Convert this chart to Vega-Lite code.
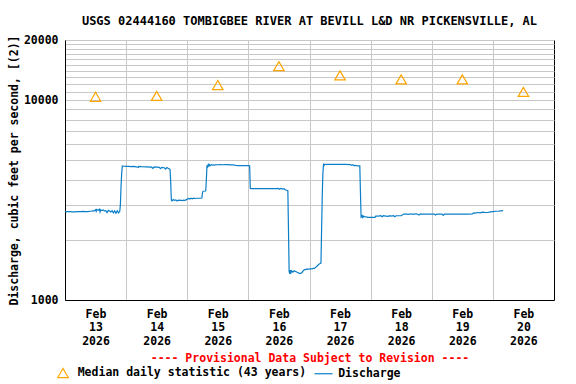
{
  "$schema": "https://vega.github.io/schema/vega-lite/v6.json",
  "width": 489,
  "height": 260,
  "autosize": {"type": "none"},
  "padding": {"left": 65, "top": 40, "right": 22, "bottom": 84},
  "background": "white",
  "title": {
    "text": "USGS 02444160 TOMBIGBEE RIVER AT BEVILL L&D NR PICKENSVILLE, AL",
    "font": "DejaVu Sans Mono", "fontSize": 12, "fontWeight": "bold", "color": "black",
    "anchor": "middle", "baseline": "bottom", "offset": 4, "dy": 10, "frame": "group"
  },
  "config": {
    "view": {"stroke": "black", "strokeWidth": 1},
    "axis": {
      "labelFont": "DejaVu Sans Mono", "labelFontSize": 11.5, "labelFontWeight": "bold", "labelColor": "black",
      "titleFont": "DejaVu Sans Mono", "titleFontSize": 11.5, "titleFontWeight": "bold", "titleColor": "black",
      "domainColor": "black", "domainWidth": 1, "ticks": false,
      "gridColor": "#c8c8c8", "gridWidth": 1, "gridOpacity": 1
    },
    "legend": {
      "labelFont": "DejaVu Sans Mono", "labelFontSize": 11.5, "labelFontWeight": "bold", "labelColor": "black", "labelLimit": 0
    }
  },
  "datasets": {
    "discharge": [
      {"t":"2026-02-13T00:00","q":2780},{"t":"2026-02-13T00:30","q":2760},{"t":"2026-02-13T01:00","q":2770},{"t":"2026-02-13T02:00","q":2770},
      {"t":"2026-02-13T03:00","q":2760},{"t":"2026-02-13T04:00","q":2760},{"t":"2026-02-13T05:00","q":2770},{"t":"2026-02-13T06:00","q":2770},
      {"t":"2026-02-13T07:00","q":2775},{"t":"2026-02-13T08:00","q":2770},{"t":"2026-02-13T09:00","q":2770},{"t":"2026-02-13T10:00","q":2780},
      {"t":"2026-02-13T11:00","q":2790},{"t":"2026-02-13T11:30","q":2790},{"t":"2026-02-13T12:00","q":2830},{"t":"2026-02-13T12:15","q":2780},
      {"t":"2026-02-13T12:30","q":2840},{"t":"2026-02-13T13:00","q":2810},{"t":"2026-02-13T13:30","q":2850},{"t":"2026-02-13T13:45","q":2760},
      {"t":"2026-02-13T14:00","q":2830},{"t":"2026-02-13T14:30","q":2800},{"t":"2026-02-13T15:00","q":2820},{"t":"2026-02-13T15:30","q":2790},
      {"t":"2026-02-13T16:00","q":2800},{"t":"2026-02-13T16:30","q":2740},{"t":"2026-02-13T17:00","q":2810},{"t":"2026-02-13T17:30","q":2790},
      {"t":"2026-02-13T18:00","q":2760},{"t":"2026-02-13T18:30","q":2800},{"t":"2026-02-13T19:00","q":2730},{"t":"2026-02-13T19:30","q":2790},
      {"t":"2026-02-13T20:00","q":2720},{"t":"2026-02-13T20:30","q":2800},{"t":"2026-02-13T21:00","q":2730},{"t":"2026-02-13T21:30","q":2780},
      {"t":"2026-02-13T21:45","q":3000},{"t":"2026-02-13T22:00","q":3700},{"t":"2026-02-13T22:15","q":4300},{"t":"2026-02-13T22:30","q":4680},
      {"t":"2026-02-13T23:00","q":4670},{"t":"2026-02-14T00:00","q":4660},{"t":"2026-02-14T01:00","q":4660},{"t":"2026-02-14T02:00","q":4650},
      {"t":"2026-02-14T03:00","q":4660},{"t":"2026-02-14T04:00","q":4640},{"t":"2026-02-14T04:45","q":4600},{"t":"2026-02-14T05:00","q":4660},
      {"t":"2026-02-14T06:00","q":4650},{"t":"2026-02-14T08:00","q":4640},{"t":"2026-02-14T10:00","q":4620},{"t":"2026-02-14T10:30","q":4560},
      {"t":"2026-02-14T11:00","q":4630},{"t":"2026-02-14T12:00","q":4620},{"t":"2026-02-14T13:00","q":4610},{"t":"2026-02-14T13:30","q":4540},
      {"t":"2026-02-14T14:00","q":4610},{"t":"2026-02-14T15:00","q":4590},{"t":"2026-02-14T15:30","q":4520},{"t":"2026-02-14T16:00","q":4600},
      {"t":"2026-02-14T16:30","q":4560},{"t":"2026-02-14T17:00","q":4530},{"t":"2026-02-14T17:15","q":4500},{"t":"2026-02-14T17:30","q":3900},
      {"t":"2026-02-14T17:45","q":3170},{"t":"2026-02-14T18:00","q":3130},{"t":"2026-02-14T18:30","q":3180},{"t":"2026-02-14T19:00","q":3150},
      {"t":"2026-02-14T19:30","q":3170},{"t":"2026-02-14T20:00","q":3130},{"t":"2026-02-14T20:30","q":3160},{"t":"2026-02-14T21:00","q":3150},
      {"t":"2026-02-14T21:30","q":3160},{"t":"2026-02-14T22:00","q":3140},{"t":"2026-02-14T22:30","q":3160},{"t":"2026-02-14T23:00","q":3150},
      {"t":"2026-02-14T23:30","q":3170},{"t":"2026-02-15T00:30","q":3220},{"t":"2026-02-15T01:00","q":3200},{"t":"2026-02-15T01:30","q":3230},
      {"t":"2026-02-15T02:00","q":3210},{"t":"2026-02-15T02:30","q":3230},{"t":"2026-02-15T03:00","q":3220},{"t":"2026-02-15T04:00","q":3230},
      {"t":"2026-02-15T05:00","q":3230},{"t":"2026-02-15T05:45","q":3240},{"t":"2026-02-15T06:00","q":3450},{"t":"2026-02-15T06:15","q":3500},
      {"t":"2026-02-15T07:00","q":3510},{"t":"2026-02-15T07:15","q":3520},{"t":"2026-02-15T07:30","q":4000},{"t":"2026-02-15T07:45","q":4720},
      {"t":"2026-02-15T08:00","q":4650},{"t":"2026-02-15T08:15","q":4760},{"t":"2026-02-15T08:30","q":4680},{"t":"2026-02-15T08:45","q":4750},
      {"t":"2026-02-15T09:00","q":4700},{"t":"2026-02-15T09:30","q":4760},{"t":"2026-02-15T10:00","q":4730},{"t":"2026-02-15T11:00","q":4740},
      {"t":"2026-02-15T12:00","q":4750},{"t":"2026-02-15T13:00","q":4760},{"t":"2026-02-15T14:00","q":4750},{"t":"2026-02-15T15:00","q":4760},
      {"t":"2026-02-15T16:00","q":4760},{"t":"2026-02-15T17:00","q":4740},{"t":"2026-02-15T18:00","q":4750},{"t":"2026-02-15T19:00","q":4720},
      {"t":"2026-02-15T20:00","q":4700},{"t":"2026-02-15T21:00","q":4700},{"t":"2026-02-15T22:00","q":4700},{"t":"2026-02-15T23:00","q":4700},
      {"t":"2026-02-16T00:00","q":4700},{"t":"2026-02-16T00:30","q":4690},{"t":"2026-02-16T00:45","q":3620},{"t":"2026-02-16T01:00","q":3610},
      {"t":"2026-02-16T03:00","q":3610},{"t":"2026-02-16T05:00","q":3610},{"t":"2026-02-16T07:00","q":3610},{"t":"2026-02-16T09:00","q":3610},
      {"t":"2026-02-16T11:00","q":3610},{"t":"2026-02-16T11:45","q":3620},{"t":"2026-02-16T12:15","q":3580},{"t":"2026-02-16T12:45","q":3620},
      {"t":"2026-02-16T13:30","q":3590},{"t":"2026-02-16T14:00","q":3610},{"t":"2026-02-16T14:30","q":3560},{"t":"2026-02-16T15:00","q":3540},
      {"t":"2026-02-16T15:30","q":3520},{"t":"2026-02-16T15:45","q":2240},{"t":"2026-02-16T16:00","q":1390},{"t":"2026-02-16T16:15","q":1350},
      {"t":"2026-02-16T16:30","q":1410},{"t":"2026-02-16T16:45","q":1370},{"t":"2026-02-16T17:00","q":1400},{"t":"2026-02-16T17:30","q":1380},
      {"t":"2026-02-16T18:00","q":1400},{"t":"2026-02-16T18:30","q":1390},{"t":"2026-02-16T19:00","q":1380},{"t":"2026-02-16T19:30","q":1370},
      {"t":"2026-02-16T20:00","q":1360},{"t":"2026-02-16T20:30","q":1360},{"t":"2026-02-16T21:00","q":1370},{"t":"2026-02-16T21:30","q":1400},
      {"t":"2026-02-16T22:00","q":1420},{"t":"2026-02-16T22:30","q":1420},{"t":"2026-02-16T23:00","q":1430},{"t":"2026-02-16T23:30","q":1425},
      {"t":"2026-02-17T00:00","q":1430},{"t":"2026-02-17T00:30","q":1430},{"t":"2026-02-17T01:00","q":1430},{"t":"2026-02-17T01:30","q":1440},
      {"t":"2026-02-17T02:00","q":1440},{"t":"2026-02-17T02:30","q":1460},{"t":"2026-02-17T03:00","q":1480},{"t":"2026-02-17T03:30","q":1500},
      {"t":"2026-02-17T04:00","q":1520},{"t":"2026-02-17T04:30","q":1530},{"t":"2026-02-17T05:00","q":3300},{"t":"2026-02-17T05:15","q":4300},
      {"t":"2026-02-17T05:30","q":4770},{"t":"2026-02-17T05:45","q":4720},{"t":"2026-02-17T06:00","q":4770},{"t":"2026-02-17T08:00","q":4770},
      {"t":"2026-02-17T10:00","q":4770},{"t":"2026-02-17T12:00","q":4770},{"t":"2026-02-17T14:00","q":4770},{"t":"2026-02-17T16:00","q":4760},
      {"t":"2026-02-17T16:30","q":4720},{"t":"2026-02-17T17:00","q":4750},{"t":"2026-02-17T17:30","q":4700},{"t":"2026-02-17T18:00","q":4720},
      {"t":"2026-02-17T18:30","q":4700},{"t":"2026-02-17T19:00","q":4690},{"t":"2026-02-17T19:45","q":4690},{"t":"2026-02-17T20:00","q":3480},
      {"t":"2026-02-17T20:15","q":2610},{"t":"2026-02-17T20:30","q":2640},{"t":"2026-02-17T20:45","q":2590},{"t":"2026-02-17T21:00","q":2640},
      {"t":"2026-02-17T21:15","q":2600},{"t":"2026-02-17T21:30","q":2620},{"t":"2026-02-17T22:00","q":2610},{"t":"2026-02-17T22:30","q":2600},
      {"t":"2026-02-17T23:00","q":2590},{"t":"2026-02-18T00:00","q":2590},{"t":"2026-02-18T01:00","q":2590},{"t":"2026-02-18T01:45","q":2590},
      {"t":"2026-02-18T02:00","q":2630},{"t":"2026-02-18T03:00","q":2630},{"t":"2026-02-18T04:00","q":2640},{"t":"2026-02-18T04:30","q":2610},
      {"t":"2026-02-18T05:00","q":2640},{"t":"2026-02-18T06:00","q":2630},{"t":"2026-02-18T07:00","q":2620},{"t":"2026-02-18T07:30","q":2640},
      {"t":"2026-02-18T08:00","q":2630},{"t":"2026-02-18T09:00","q":2640},{"t":"2026-02-18T09:30","q":2610},{"t":"2026-02-18T10:00","q":2640},
      {"t":"2026-02-18T11:00","q":2640},{"t":"2026-02-18T12:00","q":2640},{"t":"2026-02-18T13:00","q":2690},{"t":"2026-02-18T14:00","q":2690},
      {"t":"2026-02-18T15:00","q":2680},{"t":"2026-02-18T15:30","q":2700},{"t":"2026-02-18T16:00","q":2690},{"t":"2026-02-18T17:00","q":2690},
      {"t":"2026-02-18T18:00","q":2700},{"t":"2026-02-18T19:00","q":2660},{"t":"2026-02-18T19:30","q":2700},{"t":"2026-02-18T20:00","q":2690},
      {"t":"2026-02-18T22:00","q":2690},{"t":"2026-02-19T00:00","q":2690},{"t":"2026-02-19T01:00","q":2690},{"t":"2026-02-19T01:30","q":2660},
      {"t":"2026-02-19T02:00","q":2690},{"t":"2026-02-19T04:00","q":2690},{"t":"2026-02-19T04:30","q":2650},{"t":"2026-02-19T05:00","q":2690},
      {"t":"2026-02-19T08:00","q":2690},{"t":"2026-02-19T10:00","q":2690},{"t":"2026-02-19T12:00","q":2690},{"t":"2026-02-19T14:00","q":2690},
      {"t":"2026-02-19T16:00","q":2700},{"t":"2026-02-19T16:30","q":2730},{"t":"2026-02-19T17:00","q":2720},{"t":"2026-02-19T18:00","q":2740},
      {"t":"2026-02-19T19:00","q":2730},{"t":"2026-02-19T20:00","q":2750},{"t":"2026-02-19T21:00","q":2740},{"t":"2026-02-19T22:00","q":2740},
      {"t":"2026-02-19T23:00","q":2760},{"t":"2026-02-20T00:00","q":2770},{"t":"2026-02-20T01:00","q":2780},{"t":"2026-02-20T02:00","q":2780},
      {"t":"2026-02-20T03:00","q":2790},{"t":"2026-02-20T04:00","q":2800}
    ],
    "median": [
      {"t":"2026-02-13T12:00","q":10400},{"t":"2026-02-14T12:00","q":10500},{"t":"2026-02-15T12:00","q":11900},{"t":"2026-02-16T12:00","q":14800},
      {"t":"2026-02-17T12:00","q":13300},{"t":"2026-02-18T12:00","q":12700},{"t":"2026-02-19T12:00","q":12700},{"t":"2026-02-20T12:00","q":11000}
    ]
  },
  "encoding": {
    "x": {
      "field": "t", "type": "temporal",
      "scale": {"domain": [{"year": 2026, "month": "feb", "date": 13}, {"year": 2026, "month": "feb", "date": 21}]},
      "axis": {
        "title": "---- Provisional Data Subject to Revision ----",
        "titleColor": "#ff0000", "titlePadding": 6,
        "values": [
          {"year": 2026, "month": "feb", "date": 13}, {"year": 2026, "month": "feb", "date": 14},
          {"year": 2026, "month": "feb", "date": 15}, {"year": 2026, "month": "feb", "date": 16},
          {"year": 2026, "month": "feb", "date": 17}, {"year": 2026, "month": "feb", "date": 18},
          {"year": 2026, "month": "feb", "date": 19}, {"year": 2026, "month": "feb", "date": 20}
        ],
        "labelExpr": "[timeFormat(datum.value, '%b'), timeFormat(datum.value, '%d'), timeFormat(datum.value, '%Y')]",
        "labelOffset": 30.5, "labelFlush": false, "labelOverlap": false, "labelAngle": 0,
        "labelAlign": "center", "labelBaseline": "top", "labelPadding": 8, "labelLineHeight": 13.5,
        "grid": true
      }
    },
    "y": {
      "field": "q", "type": "quantitative",
      "scale": {"type": "log", "domain": [1000, 20000], "nice": false},
      "axis": {
        "title": "Discharge, cubic feet per second, [(2)]",
        "titlePadding": 4,
        "values": [1000, 2000, 3000, 4000, 5000, 6000, 7000, 8000, 9000, 10000, 11000, 12000, 13000, 14000, 15000, 16000, 17000, 18000, 19000, 20000],
        "labelExpr": "(datum.value == 1000 || datum.value == 10000 || datum.value == 20000) ? format(datum.value, 'd') : ''",
        "labelOverlap": false, "labelPadding": 7, "grid": true
      }
    }
  },
  "layer": [
    {
      "data": {"name": "discharge"},
      "mark": {"type": "line", "strokeWidth": 1.2, "interpolate": "linear"},
      "encoding": {
        "color": {
          "datum": "Discharge",
          "scale": {"domain": ["Median daily statistic (43 years)", "Discharge"], "range": ["#ffa500", "#0a7fc8"]},
          "legend": {
            "orient": "none", "legendX": -8, "legendY": 327, "direction": "horizontal", "title": null,
            "symbolSize": 324, "symbolStrokeWidth": 1.2, "labelOffset": 8.7, "columnPadding": 4.5, "padding": 0,
            "encode": {"symbols": {"update": {"size": {"signal": "datum.value === 'Discharge' ? 324 : 110"}}}}
          }
        }
      }
    },
    {
      "data": {"name": "median"},
      "mark": {"type": "point", "filled": false, "size": 110, "strokeWidth": 1.2, "opacity": 1},
      "encoding": {
        "color": {
          "datum": "Median daily statistic (43 years)",
          "scale": {"domain": ["Median daily statistic (43 years)", "Discharge"], "range": ["#ffa500", "#0a7fc8"]},
          "legend": {
            "orient": "none", "legendX": -8, "legendY": 327, "direction": "horizontal", "title": null,
            "symbolSize": 324, "symbolStrokeWidth": 1.2, "labelOffset": 8.7, "columnPadding": 4.5, "padding": 0,
            "encode": {"symbols": {"update": {"size": {"signal": "datum.value === 'Discharge' ? 324 : 110"}}}}
          }
        },
        "shape": {
          "datum": "Median daily statistic (43 years)",
          "scale": {"domain": ["Median daily statistic (43 years)", "Discharge"], "range": ["triangle-up", "stroke"]},
          "legend": {
            "orient": "none", "legendX": -8, "legendY": 327, "direction": "horizontal", "title": null,
            "symbolSize": 324, "symbolStrokeWidth": 1.2, "labelOffset": 8.7, "columnPadding": 4.5, "padding": 0,
            "encode": {"symbols": {"update": {"size": {"signal": "datum.value === 'Discharge' ? 324 : 110"}}}}
          }
        }
      }
    }
  ]
}
